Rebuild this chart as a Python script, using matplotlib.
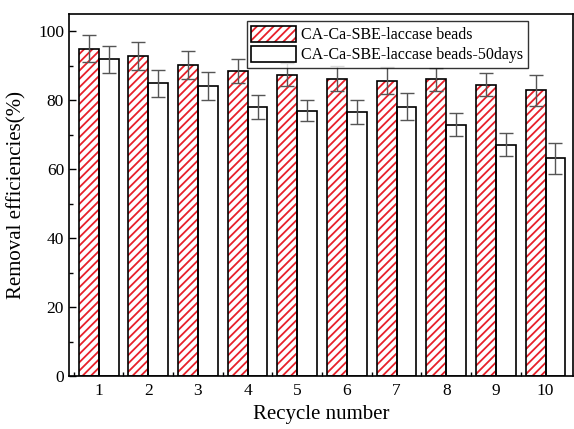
import numpy as np
import matplotlib
matplotlib.use("Agg")
import matplotlib.pyplot as plt
from matplotlib.patches import Patch

plt.rcParams['font.family'] = ['Liberation Serif', 'DejaVu Serif']
plt.rcParams['hatch.linewidth'] = 1.3

# -----------------------
# Data
# -----------------------

cycles = [1, 2, 3, 4, 5, 6, 7, 8, 9, 10]

fresh = [95.0, 92.8, 90.2, 88.6, 87.4, 86.3, 85.7, 86.1, 84.6, 82.9]
fresh_err = [4.0, 4.0, 4.0, 3.5, 3.3, 3.7, 3.9, 3.3, 3.3, 4.5]

aged = [91.9, 84.9, 84.2, 78.2, 77.0, 76.6, 78.1, 72.9, 67.2, 63.2]
aged_err = [4.0, 3.9, 4.0, 3.5, 3.1, 3.5, 3.9, 3.3, 3.3, 4.5]

labels = ["CA-Ca-SBE-laccase beads", "CA-Ca-SBE-laccase beads-50days"]

# -----------------------
# Plot
# -----------------------

fig = plt.figure(figsize=(5.74, 4.29), dpi=100)
ax = fig.add_axes([0.120, 0.123, 0.878, 0.844])

x = np.array(cycles)
w = 0.4

ax.bar(x - w / 2, fresh, width=w, color="white", edgecolor="#e8202a",
       hatch="////", linewidth=0, zorder=2)
ax.bar(x - w / 2, fresh, width=w, color="none", edgecolor="black",
       linewidth=1.2, zorder=3)
ax.bar(x + w / 2, aged, width=w, color="white", edgecolor="black",
       linewidth=1.2, zorder=2)

ax.errorbar(x - w / 2, fresh, yerr=fresh_err, fmt="none", ecolor="#555555",
            elinewidth=1, capsize=5, capthick=1, zorder=4)
ax.errorbar(x + w / 2, aged, yerr=aged_err, fmt="none", ecolor="#555555",
            elinewidth=1, capsize=5, capthick=1, zorder=4)

ax.set_xlim(0.4, 10.55)
ax.set_ylim(0, 105)
ax.set_xticks(cycles)
ax.set_xticks(x - 0.5, minor=True)
ax.set_yticks([0, 20, 40, 60, 80, 100])
ax.set_yticks([10, 30, 50, 70, 90], minor=True)

ax.tick_params(which="both", direction="in", labelsize=12.5, width=1)
ax.tick_params(which="major", length=5)
ax.tick_params(which="minor", length=3)
ax.tick_params(axis="x", which="major", length=0, pad=5)

for s in ax.spines.values():
    s.set_linewidth(1.2)

ax.set_xlabel("Recycle number", fontsize=15, labelpad=4)
ax.set_ylabel("Removal efficiencies(%)", fontsize=15, labelpad=8)

# hatched handle = red hatch + black outline
hatch_handle = (
    Patch(facecolor="white", edgecolor="#e8202a", hatch="////", linewidth=0),
    Patch(facecolor="none", edgecolor="black", linewidth=1.2),
)
plain_handle = Patch(facecolor="white", edgecolor="black", linewidth=1.2)

leg = ax.legend([hatch_handle, plain_handle], labels, loc="upper right",
                bbox_to_anchor=(0.917, 0.99),
                fontsize=11.5, frameon=True, fancybox=False, edgecolor="black",
                handlelength=2.8, handleheight=1.2, handletextpad=0.3,
                borderpad=0.3, labelspacing=0.15, borderaxespad=0.2)
leg.get_frame().set_linewidth(1)

fig.savefig("out.png", dpi=100)
